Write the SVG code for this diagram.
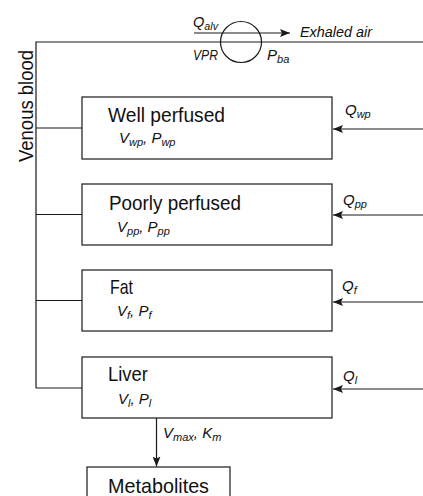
<svg xmlns="http://www.w3.org/2000/svg" width="423" height="496" viewBox="0 0 423 496">
<style>
.ln{stroke:#1a1a1a;stroke-width:1.2;fill:none}
.box{stroke:#1a1a1a;stroke-width:1.2;fill:#fff}
.t{font-family:"Liberation Sans",Arial,sans-serif;font-size:21px;fill:#111}
.i{font-family:"Liberation Sans",Arial,sans-serif;font-style:italic;font-size:15px;fill:#111}
.s{font-size:11px}
</style>
<defs>
<marker id="ah" viewBox="0 0 10 8" refX="10" refY="4" markerWidth="10" markerHeight="8" markerUnits="userSpaceOnUse" orient="auto">
<path d="M0,0 L10,4 L0,8 L2,4 Z" fill="#1a1a1a"/>
</marker>
</defs>
<rect width="423" height="496" fill="#fff"/>
<g id="connectors">
<path class="ln" d="M423,42 H36 V388"/>
<path class="ln" d="M36,128 H82"/>
<path class="ln" d="M36,214.5 H82"/>
<path class="ln" d="M36,300.5 H82"/>
<path class="ln" d="M36,388 H82"/>
<path class="ln" d="M194,33 H290" marker-end="url(#ah)"/>
<path class="ln" d="M423,129 H333" marker-end="url(#ah)"/>
<path class="ln" d="M423,215 H333" marker-end="url(#ah)"/>
<path class="ln" d="M423,302 H333" marker-end="url(#ah)"/>
<path class="ln" d="M423,389 H333" marker-end="url(#ah)"/>
<path class="ln" d="M156.5,418 V466.5" marker-end="url(#ah)"/>
<text class="i" x="193" y="27" textLength="25" lengthAdjust="spacingAndGlyphs">Q<tspan class="s" dy="3">alv</tspan></text>
<text class="i" x="300" y="37" textLength="72" lengthAdjust="spacingAndGlyphs">Exhaled air</text>
<text class="i" x="345" y="115">Q<tspan class="s" dy="3">wp</tspan></text>
<text class="i" x="343" y="205">Q<tspan class="s" dy="3">pp</tspan></text>
<text class="i" x="342" y="291">Q<tspan class="s" dy="3">f</tspan></text>
<text class="i" x="343" y="381">Q<tspan class="s" dy="3">l</tspan></text>
<text class="i" x="163" y="438">V<tspan class="s" dy="3">max</tspan><tspan dy="-3">, K</tspan><tspan class="s" dy="3">m</tspan></text>
</g>
<g id="lung">
<circle class="ln" cx="241" cy="42" r="20.5"/>
<text class="i" x="193" y="60" textLength="25" lengthAdjust="spacingAndGlyphs">VPR</text>
<text class="i" x="267" y="60">P<tspan class="s" dy="3">ba</tspan></text>
</g>
<g id="venous">
<text class="t" transform="translate(33,106) rotate(-90)" text-anchor="middle" textLength="112" lengthAdjust="spacingAndGlyphs">Venous blood</text>
</g>
<g id="well">
<rect class="box" x="82" y="97" width="250" height="62"/>
<text class="t" x="108" y="122" textLength="117" lengthAdjust="spacingAndGlyphs">Well perfused</text>
<text class="i" x="119" y="143">V<tspan class="s" dy="3">wp</tspan><tspan dy="-3">, P</tspan><tspan class="s" dy="3">wp</tspan></text>
</g>
<g id="poorly">
<rect class="box" x="82" y="184" width="250" height="61"/>
<text class="t" x="109" y="210" textLength="132" lengthAdjust="spacingAndGlyphs">Poorly perfused</text>
<text class="i" x="117" y="232">V<tspan class="s" dy="3">pp</tspan><tspan dy="-3">, P</tspan><tspan class="s" dy="3">pp</tspan></text>
</g>
<g id="fat">
<rect class="box" x="82" y="270" width="250" height="61"/>
<text class="t" x="110" y="294" textLength="23" lengthAdjust="spacingAndGlyphs">Fat</text>
<text class="i" x="117" y="316">V<tspan class="s" dy="3">f</tspan><tspan dy="-3">, P</tspan><tspan class="s" dy="3">f</tspan></text>
</g>
<g id="liver">
<rect class="box" x="82" y="357" width="250" height="61"/>
<text class="t" x="108" y="381" textLength="40" lengthAdjust="spacingAndGlyphs">Liver</text>
<text class="i" x="118" y="404">V<tspan class="s" dy="3">l</tspan><tspan dy="-3">, P</tspan><tspan class="s" dy="3">l</tspan></text>
</g>
<g id="metabolites">
<rect class="box" x="87" y="467" width="143" height="40"/>
<text class="t" x="108" y="493" textLength="101" lengthAdjust="spacingAndGlyphs">Metabolites</text>
</g>
</svg>
